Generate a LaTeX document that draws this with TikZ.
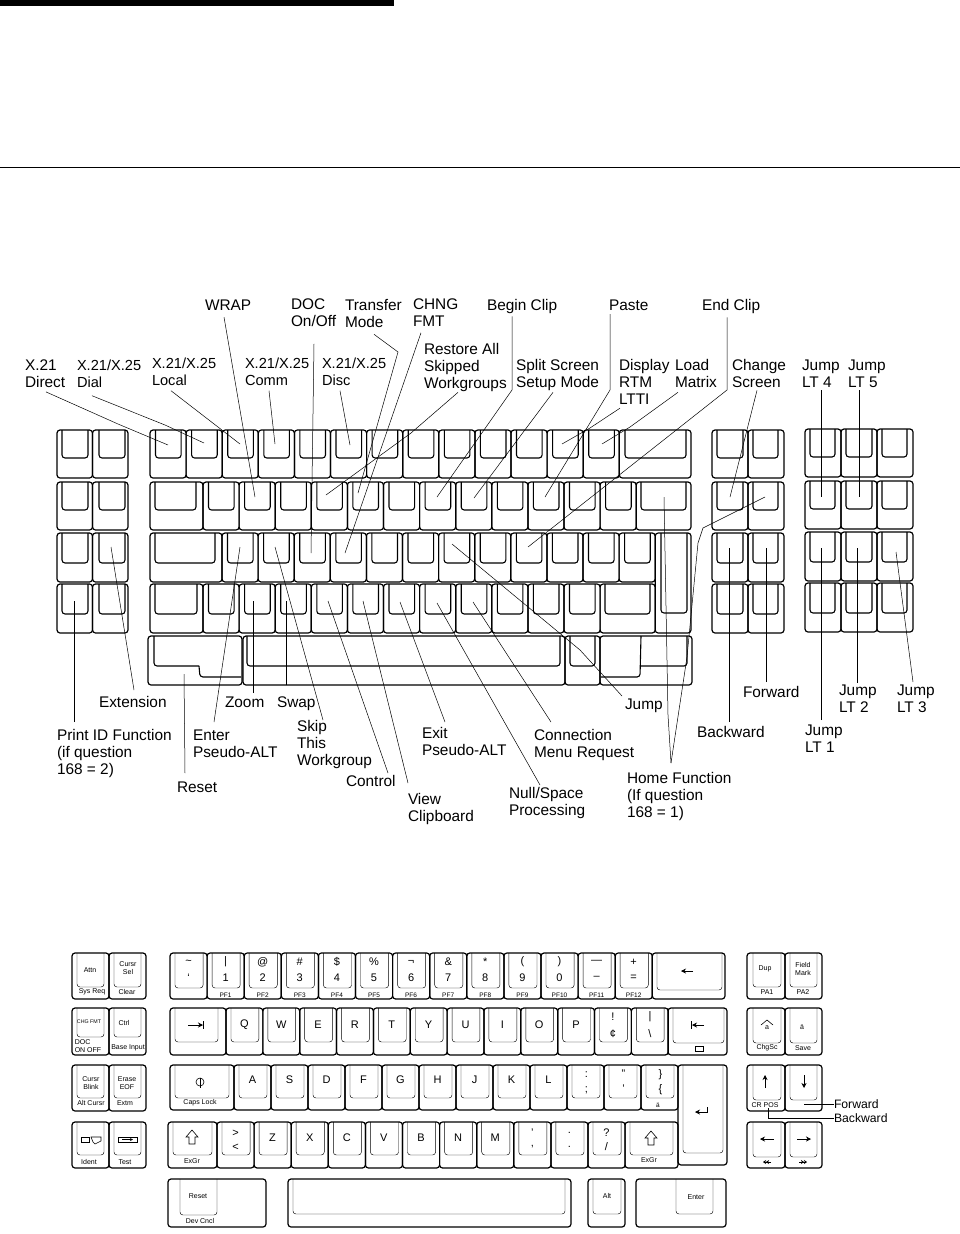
\documentclass[tikz,border=0pt]{standalone}
\usepackage{fontspec}
\setmainfont{Liberation Sans}
\usetikzlibrary{arrows.meta}
\newcommand{\keycap}[9][keyin]{%
  \node[keyout, minimum width={(#4-#3)*1pt}, minimum height={(#6-#5)*1pt}] (#2) at (#3,#5) {};
  \draw[#1] ({#7},#5) -- ({#7},#9) -- ({#8},#9) -- ({#8},#5);
}
\begin{document}
\begin{tikzpicture}[
  x=1pt, y=-1pt,
  every node/.style={inner sep=0pt, outer sep=0pt},
  lab/.style={anchor=north west, align=left, font=\fontsize{15.4}{17}\selectfont},
  labx/.style={lab, font=\fontsize{14.6}{17}\selectfont},
  keyout/.style={draw, anchor=north west, line width=1.2pt, rounded corners=3pt},
  keyin/.style={line width=1.1pt, rounded corners=3pt},
  keythin/.style={line width=.45pt, rounded corners=3pt},
  lead/.style={line width=.5pt},
  capbig/.style={font=\fontsize{11}{12}\selectfont},
  capsml/.style={font=\fontsize{7}{8}\selectfont, align=center},
  capsub/.style={font=\fontsize{6.5}{7}\selectfont},
  glyph/.style={line width=.6pt},
  tip/.style={-{Stealth[length=5pt,width=5pt]}},
]
\path[fill=white, use as bounding box] (0,0) rectangle (960,1234);
\fill (0,0) rectangle (394,6);
\draw[line width=.6pt] (0,167) -- (960,167);

% Upper keyboard: side blocks
\foreach \yt/\yb/\yi [count=\r] in {430/478/458,482/530/510,533/582/563,584/633/614}{
  \keycap{fa\r}{57}{92.5}{\yt}{\yb}{62}{88}{\yi}
  \keycap{fb\r}{92.5}{128}{\yt}{\yb}{99}{125}{\yi}
  \keycap{ca\r}{712}{748}{\yt}{\yb}{717}{743}{\yi}
  \keycap{cb\r}{748}{784}{\yt}{\yb}{753}{778}{\yi}
  \pgfmathsetmacro\ya{\yt-1}
  \pgfmathsetmacro\yz{\yb-1}
  \pgfmathsetmacro\yh{\yi-1}
  \keycap{na\r}{805}{841}{\ya}{\yz}{810}{835}{\yh}
  \keycap{nb\r}{841}{877}{\ya}{\yz}{846}{872}{\yh}
  \keycap{nc\r}{877}{913}{\ya}{\yz}{882}{907}{\yh}
}
% Upper keyboard: main block
\foreach \i in {0,...,12}{
  \pgfmathsetmacro\xa{150+36.1*\i}
  \pgfmathsetmacro\xb{\xa+36.1}
  \keycap{ra\i}{\xa}{\xb}{430}{478}{\xa+5.5}{\xb-5}{458}
}
\keycap{raWide}{619.3}{691}{430}{478}{625}{686}{458}
\keycap{rbWide}{150}{203}{482}{530}{155}{196}{510}
\foreach \i in {0,...,11}{
  \pgfmathsetmacro\xa{203+36.1*\i}
  \pgfmathsetmacro\xb{\xa+36.1}
  \keycap{rb\i}{\xa}{\xb}{482}{530}{\xa+5.5}{\xb-5}{510}
}
\keycap{rbEnd}{636.2}{691}{482}{530}{641}{686}{510}
\keycap{rcWide}{150}{222}{533}{582}{155}{215}{563}
\foreach \i in {0,...,11}{
  \pgfmathsetmacro\xa{222+36.1*\i}
  \pgfmathsetmacro\xb{\xa+36.1}
  \keycap{rc\i}{\xa}{\xb}{533}{582}{\xa+5.5}{\xb-5}{563}
}
\keycap{rcTall}{655.2}{691}{533}{633}{661}{687}{613}
\keycap{rdWide}{150}{203}{584}{633}{155}{197}{614}
\foreach \i in {0,...,10}{
  \pgfmathsetmacro\xa{203+36.1*\i}
  \pgfmathsetmacro\xb{\xa+36.1}
  \keycap{rd\i}{\xa}{\xb}{584}{633}{\xa+5.5}{\xb-5}{614}
}
\keycap{rdEnd}{600.1}{655.2}{584}{633}{605}{650}{614}
% Upper keyboard: bottom row
\node[keyout, minimum width=94pt, minimum height=49pt] (reBlock) at (148,636) {};
\draw[keyin] (154,636) -- (154,666) -- (199,666);
\draw[keyin] (199,666) -- (200,677) -- (241,677);
\keycap{reSpace}{243}{565}{636}{685}{247}{560}{666}
\keycap{reAlt}{565}{600}{636}{685}{570}{595}{666}
\node[keyout, minimum width=92pt, minimum height=49pt] (reRight) at (600,636) {};
\draw[keyin] (687,636) -- (687,666) -- (641,666);
\draw[keyin] (641,636) -- (640,677) -- (601,677);

% Upper keyboard: labels
\node[lab] (lDirect) at (25,360) {X.21\\Direct};
\node[labx] (lDial) at (77,360) {X.21/X.25\\Dial};
\node[labx] (lLocal) at (152,358) {X.21/X.25\\Local};
\node[labx] (lComm) at (245,358) {X.21/X.25\\Comm};
\node[labx] (lDisc) at (322,358) {X.21/X.25\\Disc};
\node[lab] (lWrap) at (205,299.5) {WRAP};
\node[lab] (lDoc) at (291,299) {DOC\\On/Off};
\node[lab] (lTransfer) at (345,299) {Transfer\\Mode};
\node[lab] (lChng) at (413,299) {CHNG\\FMT};
\node[lab] (lRestore) at (424,343) {Restore All\\Skipped\\Workgroups};
\node[lab] (lBegin) at (487,299) {Begin Clip};
\node[lab] (lSplit) at (516,359) {Split Screen\\Setup Mode};
\node[lab] (lPaste) at (609,299.5) {Paste};
\node[lab] (lDisplay) at (619,359) {Display\\RTM\\LTTI};
\node[lab] (lLoad) at (675,359) {Load\\Matrix};
\node[lab] (lEnd) at (702,299) {End Clip};
\node[lab] (lChange) at (732,359) {Change\\Screen};
\node[lab] (lJump4) at (802,359.5) {Jump\\LT 4};
\node[lab] (lJump5) at (848,359.5) {Jump\\LT 5};
\node[lab] (lExt) at (99,696) {Extension};
\node[lab] (lPrint) at (57,729) {Print ID Function\\(if question\\168 = 2)};
\node[lab] (lEnter) at (193,730) {Enter\\Pseudo-ALT};
\node[lab] (lReset) at (177,782) {Reset};
\node[lab] (lZoom) at (225,697) {Zoom};
\node[lab] (lSwap) at (277,697) {Swap};
\node[lab] (lSkip) at (297,720) {Skip\\This\\Workgroup};
\node[lab] (lControl) at (346,775) {Control};
\node[lab] (lView) at (408,793) {View\\Clipboard};
\node[lab] (lExit) at (422,727) {Exit\\Pseudo-ALT};
\node[lab] (lConn) at (534,729) {Connection\\Menu Request};
\node[lab] (lNull) at (509,787) {Null/Space\\Processing};
\node[lab] (lJump) at (625,699) {Jump};
\node[lab] (lHome) at (627,772) {Home Function\\(If question\\168 = 1)};
\node[lab] (lFwd) at (743,686) {Forward};
\node[lab] (lBwd) at (697,726) {Backward};
\node[lab] (lJump1) at (805,725) {Jump\\LT 1};
\node[lab] (lJump2) at (839,685) {Jump\\LT 2};
\node[lab] (lJump3) at (897,685) {Jump\\LT 3};

% Leader ends inside the keys
\foreach \n/\x/\y in {Direct/168/445,Dial/204/443,Local/240/444,Comm/275/444,Disc/350/445,
    Wrap/255/497,Doc/311/553,Transfer/358/493,Chng/345/553,Restore/326/495,Begin/437/497,
    Split/474/498,Paste/545/497,Display/562/444,Load/602/444,End/528/547,Change/730/497,
    Jump4/821/497,Jump5/859/497,Ext/111/547,Print/74.5/601,Enter/240/547,Reset/184/674,
    Zoom/253/601,Swap/286/601,Skip/275/547,Control/328/601,View/363/601,Exit/400/602,
    Conn/473/602,Null/437/603,Jump/452/544,HomeA/664/497,HomeB/765/497,Fwd/766/548,
    Bwd/729/548,Jump1/821/548,Jump2/857/548,Jump3/896/552}{
  \coordinate (t\n) at (\x,\y);
}
\draw[lead] ([shift={(21pt,-4pt)}]lDirect.south west) -- (118,424) -- (tDirect);
\draw[lead] ([shift={(15pt,-8pt)}]lDial.south west) -- (165,425) -- (tDial);
\draw[lead] ([shift={(19pt,-5pt)}]lLocal.south west) -- (tLocal);
\draw[lead] ([shift={(24pt,-5pt)}]lComm.south west) -- (tComm);
\draw[lead] ([shift={(18pt,-5pt)}]lDisc.south west) -- (tDisc);
\draw[lead] ([shift={(19pt,-7pt)}]lWrap.south west) -- (tWrap);
\draw[lead] ([shift={(23pt,-17pt)}]lDoc.south west) -- (tDoc);
\draw[lead] ([shift={(29pt,-7pt)}]lTransfer.south west) -- (398,352) -- (tTransfer);
\draw[lead] ([shift={(8pt,-6pt)}]lChng.south west) -- (tChng);
\draw[lead] ([shift={(34pt,-1pt)}]lRestore.south west) -- (411,433) -- (tRestore);
\draw[lead] ([shift={(25pt,-3pt)}]lBegin.south west) -- (512,390) -- (tBegin);
\draw[lead] ([shift={(37pt,-2pt)}]lSplit.south west) -- (tSplit);
\draw[lead] ([shift={(1pt,-4pt)}]lPaste.south west) -- (610,390) -- (tPaste);
\draw[lead] ([shift={(1pt,-4pt)}]lDisplay.south west) -- (590,428) -- (tDisplay);
\draw[lead] ([shift={(3pt,-5pt)}]lLoad.south west) -- (630,427) -- (tLoad);
\draw[lead] ([shift={(25pt,-4pt)}]lEnd.south west) -- (727,390) -- (tEnd);
\draw[lead] ([shift={(25pt,-3pt)}]lChange.south west) -- (tChange);
\draw[lead] ([shift={(19pt,-3pt)}]lJump4.south west) -- (tJump4);
\draw[lead] ([shift={(11pt,-3pt)}]lJump5.south west) -- (tJump5);
\draw[lead] ([shift={(35pt,6pt)}]lExt.north west) -- (tExt);
\draw[lead] ([shift={(17.5pt,7pt)}]lPrint.north west) -- (tPrint);
\draw[lead] ([shift={(21pt,8pt)}]lEnter.north west) -- (tEnter);
\draw[lead] ([shift={(8pt,9pt)}]lReset.north west) -- (tReset);
\draw[lead] ([shift={(28pt,4pt)}]lZoom.north west) -- (tZoom);
\draw[lead] ([shift={(9pt,12pt)}]lSwap.north west) -- (tSwap);
\draw[lead] ([shift={(26pt,0pt)}]lSkip.north west) -- (tSkip);
\draw[lead] ([shift={(42pt,2pt)}]lControl.north west) -- (tControl);
\draw[lead] ([shift={(0pt,10pt)}]lView.north west) -- (tView);
\draw[lead] ([shift={(23pt,5pt)}]lExit.north west) -- (tExit);
\draw[lead] ([shift={(17pt,7pt)}]lConn.north west) -- (tConn);
\draw[lead] ([shift={(31pt,2pt)}]lNull.north west) -- (tNull);
\draw[lead] ([shift={(-3pt,3pt)}]lJump.north west) -- (580,650) -- (tJump);
\draw[lead] ([shift={(44pt,9pt)}]lHome.north west) -- (668,715) -- (tHomeA);
\draw[lead] ([shift={(44pt,9pt)}]lHome.north west) -- (687,657) -- (698,543) -- (703,528) -- (tHomeB);
\draw[lead] ([shift={(23pt,4pt)}]lFwd.north west) -- (tFwd);
\draw[lead] ([shift={(32pt,4pt)}]lBwd.north west) -- (tBwd);
\draw[lead] ([shift={(16pt,5pt)}]lJump1.north west) -- (tJump1);
\draw[lead] ([shift={(18pt,2pt)}]lJump2.north west) -- (tJump2);
\draw[lead] ([shift={(16pt,3pt)}]lJump3.north west) -- (tJump3);

% Lower keyboard: side blocks
\foreach \yt/\yb/\yi/\yj [count=\r] in {953/999/987/987,1008/1055/1037/1043,1065/1111/1098/1100,1122/1168/1155/1157}{
  \keycap[keythin]{ga\r}{72}{109}{\yt}{\yb}{77}{104}{\yi}
  \keycap[keythin]{gb\r}{109}{146}{\yt}{\yb}{114}{141}{\yi}
  \keycap[keythin]{ha\r}{747}{785}{\yt}{\yb}{753}{781}{\yj}
  \keycap[keythin]{hb\r}{785}{822}{\yt}{\yb}{790}{817}{\yj}
}
% Lower keyboard: row 1
\foreach \up/\dn/\pf [count=\i from 0] in {\textasciitilde/{`}/{},|/1/PF1,@/2/PF2,\#/3/PF3,\$/4/PF4,\%/5/PF5,
    ¬/6/PF6,\&/7/PF7,*/8/PF8,{(}/9/PF9,{)}/0/PF10,—/–/PF11,+/=/PF12}{
  \pgfmathsetmacro\xa{170+37.1*\i}
  \pgfmathsetmacro\xb{\xa+37.1}
  \pgfmathsetmacro\xc{\xa+18.5}
  \keycap[keythin]{ua\i}{\xa}{\xb}{953}{999}{\xa+5}{\xb-4}{988}
  \node[capbig] (uaTop\i) at (\xc,962) {\up};
  \node[capbig] (uaBot\i) at (\xc,978) {\dn};
  \node[capsub] (uaSub\i) at (\xc,995) {\pf};
}
\keycap[keythin]{uaBack}{652.3}{725}{953}{999}{657}{722}{990}
\draw[glyph, tip] (693,971) -- (681,971);
% Lower keyboard: row 2
\keycap[keythin]{ubTab}{170}{226}{1008}{1055}{175}{218}{1042}
\draw[glyph, tip] (188,1025) -- (203,1025);
\draw[line width=1pt] (203.5,1021) -- (203.5,1029);
\foreach \ch [count=\i from 0] in {Q,W,E,R,T,Y,U,I,O,P,{},{}}{
  \pgfmathsetmacro\xa{226+36.85*\i}
  \pgfmathsetmacro\xb{\xa+36.85}
  \pgfmathsetmacro\xc{\xa+18.4}
  \keycap[keythin]{ub\i}{\xa}{\xb}{1008}{1055}{\xa+5}{\xb-4}{1042}
  \node[capbig] (ubTxt\i) at (\xc,1025) {\ch};
}
\node[capbig] (ubExcl) at (613,1017) {!};
\node[capbig] (ubCent) at (613,1034) {¢};
\node[capbig] (ubBar) at (650,1017) {|};
\node[capbig] (ubBack) at (650,1034) {\textbackslash};
\keycap[keythin]{ubEnd}{668}{727}{1008}{1055}{673}{724}{1043}
\draw[glyph, tip] (704,1025) -- (692,1025);
\draw[line width=1pt] (691.5,1021) -- (691.5,1029);
\draw[glyph] (695,1046) rectangle (703,1051);
% Lower keyboard: row 3
\keycap[keythin]{ucCaps}{170}{234}{1065}{1110}{175}{229}{1098}
\draw[glyph] (200,1082) circle (4);
\draw[glyph] (200,1088) -- (200,1078);
\node[capsml] (ucCapsTxt) at (200,1103) {Caps Lock};
\foreach \ch [count=\i from 0] in {A,S,D,F,G,H,J,K,L,{},{},{}}{
  \pgfmathsetmacro\xa{234+37*\i}
  \pgfmathsetmacro\xb{\xa+37}
  \pgfmathsetmacro\xc{\xa+18.5}
  \keycap[keythin]{uc\i}{\xa}{\xb}{1065}{1110}{\xa+5}{\xb-4}{1098}
  \node[capbig] (ucTxt\i) at (\xc,1080) {\ch};
}
\node[capbig] (ucColon) at (586.5,1075) {:};
\node[capbig] (ucSemi) at (586.5,1090) {;};
\node[capbig] (ucQuote) at (623.5,1074) {"};
\node[capbig] (ucApos) at (623.5,1089) {'};
\node[capbig] (ucCurlR) at (660.5,1075) {\}};
\node[capbig] (ucCurlL) at (660.5,1090) {\{};
\node[capsub] (ucDia) at (658,1105) {ä};
% Lower keyboard: row 4
\keycap[keythin]{udShift}{168}{217}{1122}{1168}{173}{212}{1155}
\node[capsml] (udShiftTxt) at (192,1161) {ExGr};
\foreach \i in {0,...,10}{
  \pgfmathsetmacro\xa{217+37.1*\i}
  \pgfmathsetmacro\xb{\xa+37.1}
  \keycap[keythin]{ud\i}{\xa}{\xb}{1122}{1168}{\xa+5}{\xb-4}{1155}
}
\foreach \ch/\i in {Z/1,X/2,C/3,V/4,B/5,N/6,M/7}{
  \pgfmathsetmacro\xc{235.5+37.1*\i}
  \node[capbig] (udTxt\i) at (\xc,1138) {\ch};
}
\foreach \up/\dn/\i in {>/</0,{'}/{,}/8,./{.}/9,?/{/}/10}{
  \pgfmathsetmacro\xc{235.5+37.1*\i}
  \node[capbig] (udUp\i) at (\xc,1133) {\up};
  \node[capbig] (udDn\i) at (\xc,1147) {\dn};
}
\keycap[keythin]{udEnd}{625}{678}{1122}{1168}{630}{673}{1155}
\node[capsml] (udEndTxt) at (649,1160) {ExGr};
\foreach \sx/\sy in {192/1138,651/1139}{
  \begin{scope}[shift={(\sx,\sy)}]
    \draw[glyph] (0,-8) -- (6,-1) -- (3,-1) -- (3,6) -- (-3,6) -- (-3,-1) -- (-6,-1) -- cycle;
  \end{scope}
}
% Lower keyboard: tall enter and bottom row
\keycap[keythin]{uEnter}{678}{727}{1065}{1165}{683}{723}{1153}
\draw[glyph, tip] (707,1107) -- (707,1112) -- (695,1112);
\keycap[keythin]{veReset}{168}{266}{1179}{1227}{180}{217}{1215}
\node[capsml] (veResetTxt) at (198,1196) {Reset};
\node[capsml] (veCncl) at (200,1221) {Dev Cncl};
\keycap[keythin]{veSpace}{288}{571}{1179}{1227}{293}{565}{1214}
\keycap[keythin]{veAlt}{588}{625}{1179}{1227}{593}{621}{1214}
\node[capsml] (veAltTxt) at (607,1196) {Alt};
\keycap[keythin]{veEnter}{636}{726}{1179}{1227}{676}{713}{1214}
\node[capsml] (veEnterTxt) at (696,1197) {Enter};

% Lower keyboard: left block texts
\node[capsml] (gAttn) at (90,970) {Attn};
\node[capsml] (gSys) at (92,992) {Sys Req};
\node[capsml] (gSel) at (128,968) {Cursr\\Sel};
\node[capsml] (gClear) at (127,992) {Clear};
\node[font=\fontsize{5.3}{6}\selectfont] (gChng) at (89,1022) {CHG FMT};
\node[capsml, align=left] (gDoc) at (88,1046) {DOC\\ON  OFF};
\node[capsml] (gCtrl) at (124,1023) {Ctrl};
\node[capsml] (gBase) at (128,1048) {Base Input};
\node[capsml] (gBlink) at (91,1083) {Cursr\\Blink};
\node[capsml] (gErase) at (127,1083) {Erase\\EOF};
\node[capsml] (gAlt) at (91,1103) {Alt Cursr};
\node[capsml] (gExtm) at (125,1103) {Extm};
\node[capsml] (gIdent) at (89,1162) {Ident};
\node[capsml] (gTest) at (125,1162) {Test};
\draw[glyph] (81,1137) rectangle (89,1142);
\draw[glyph] (91,1137) -- (101,1137) -- (101,1141) -- (95,1144) -- (93,1142) -- cycle;
\draw[glyph] (118,1137) rectangle (137,1142);
\draw[glyph, -{Stealth[length=3pt,width=3pt]}] (122,1139.5) -- (133,1139.5);

% Lower keyboard: right block texts
\node[capsml] (hDup) at (765,969) {Dup};
\node[capsml] (hPa1) at (767,992) {PA1};
\node[capsml] (hField) at (803,969) {Field\\Mark};
\node[capsml] (hPa2) at (803,992) {PA2};
\node[capsml] (hHouse) at (767,1028) {a};
\draw[glyph] (761,1025) -- (767,1020) -- (773,1025);
\node[capsml] (hDia) at (802,1027) {ä};
\node[capsml] (hChg) at (767,1048) {ChgSc};
\node[capsml] (hSave) at (803,1048) {Save};
\node[capsml] (hPos) at (765,1105) {CR POS};
\draw[glyph, tip] (765,1088) -- (765,1075);
\draw[glyph, tip] (804,1075) -- (804,1088);
\draw[glyph, tip] (774,1139) -- (760,1139);
\draw[glyph, tip] (797,1139) -- (811,1139);
\draw[glyph, -{Stealth[length=3pt,width=4pt]Stealth[length=3pt,width=4pt]}] (771,1162) -- (763,1162);
\draw[glyph, -{Stealth[length=3pt,width=4pt]Stealth[length=3pt,width=4pt]}] (799,1162) -- (807,1162);
\node[anchor=west, font=\fontsize{12.2}{14}\selectfont] (lForward) at (834,1104) {Forward};
\node[anchor=west, font=\fontsize{12.2}{14}\selectfont] (lBackward) at (834,1118) {Backward};
\coordinate (tForward) at (804,1104);
\coordinate (tBackward) at (768,1108);
\draw[lead] (lForward.west) -- (tForward);
\draw[lead] (lBackward.west) -- (768,1118) -- (tBackward);
\end{tikzpicture}
\end{document}
